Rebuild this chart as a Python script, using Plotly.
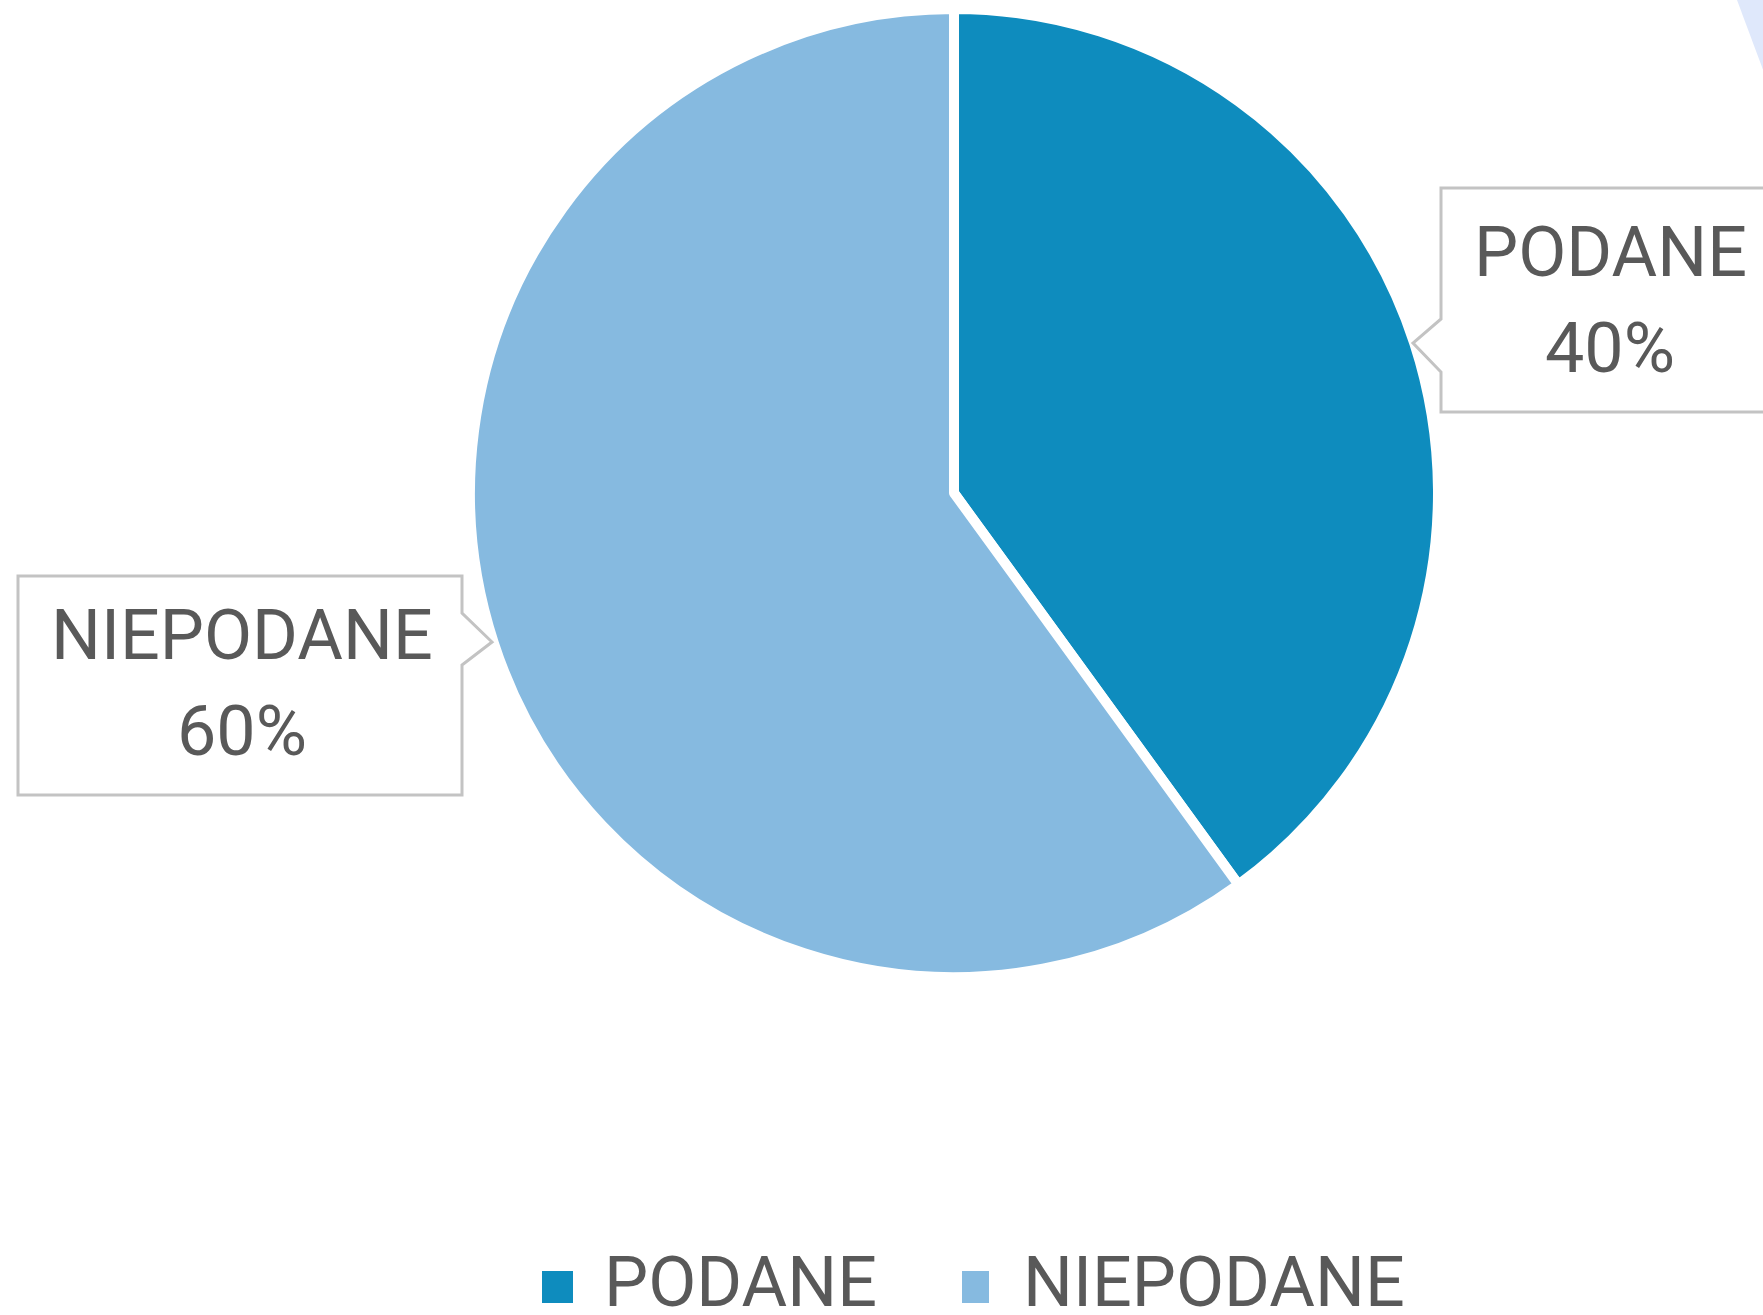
import plotly.graph_objects as go

# ---- data ----
categories = ["PODANE", "NIEPODANE"]
values = [40, 60]
colors = ["#0E8CBE", "#86BAE0"]

# ---- layout constants (pixels) ----
W, H = 1763, 1315
CX, CY, R = 954, 493, 479
SEP = 10
FONT = "Roboto, Liberation Sans, Arial, sans-serif"
TXT = "#595959"
FS = 70


def px(x):
    return x / W


def py(y):
    return 1 - y / H


fig = go.Figure()
Rd = R + SEP / 2
fig.add_trace(go.Pie(
    labels=categories,
    values=values,
    sort=False,
    direction="clockwise",
    rotation=0,
    marker=dict(colors=colors, line=dict(color="white", width=SEP)),
    textinfo="none",
    hoverinfo="label+percent",
    showlegend=False,
    domain=dict(x=[px(CX - Rd), px(CX + Rd)], y=[py(CY + Rd), py(CY - Rd)]),
))

total = sum(values)
pct = [f"{round(v / total * 100)}%" for v in values]

shapes = []
annotations = []


def path(points):
    s = "M " + " L ".join(f"{px(x):.6f},{py(y):.6f}" for x, y in points) + " Z"
    return s


# callout boxes
boxes = {
    "PODANE": dict(l=1441, t=188, r=1775, b=412, side="left", p0=319, tx=1413, ty=343, p1=372,
                   cx=1610, y1=252, y2=348),
    "NIEPODANE": dict(l=18, t=576, r=462, b=795, side="right", p0=613, tx=492, ty=642, p1=665,
                      cx=242, y1=635, y2=731),
}

for cat, p in zip(categories, pct):
    b = boxes[cat]
    if b["side"] == "left":
        pts = [(b["l"], b["t"]), (b["r"], b["t"]), (b["r"], b["b"]), (b["l"], b["b"]),
               (b["l"], b["p1"]), (b["tx"], b["ty"]), (b["l"], b["p0"])]
    else:
        pts = [(b["l"], b["t"]), (b["r"], b["t"]), (b["r"], b["p0"]), (b["tx"], b["ty"]),
               (b["r"], b["p1"]), (b["r"], b["b"]), (b["l"], b["b"])]
    shapes.append(dict(type="path", xref="paper", yref="paper", path=path(pts),
                       line=dict(color="#C3C3C3", width=3), fillcolor="white", layer="above"))
    annotations.append(dict(text=cat, x=px(b["cx"]), y=py(b["y1"]), xref="paper", yref="paper",
                            xanchor="center", yanchor="middle", showarrow=False,
                            font=dict(family=FONT, size=FS, color=TXT)))
    annotations.append(dict(text=p, x=px(b["cx"]), y=py(b["y2"]), xref="paper", yref="paper",
                            xanchor="center", yanchor="middle", showarrow=False,
                            font=dict(family=FONT, size=FS, color=TXT)))

# manual legend (large squares)
leg_sq = [(542, 573), (962, 989)]
leg_tx = [602, 1021]
LEG_Y0, LEG_Y1, LEG_TY = 1271, 1303, 1282
for cat, col, (x0, x1), tx in zip(categories, colors, leg_sq, leg_tx):
    shapes.append(dict(type="rect", xref="paper", yref="paper",
                       x0=px(x0), x1=px(x1), y0=py(LEG_Y1), y1=py(LEG_Y0),
                       fillcolor=col, line=dict(width=0)))
    annotations.append(dict(text=cat, x=px(tx), y=py(LEG_TY), xref="paper", yref="paper",
                            xanchor="left", yanchor="middle", showarrow=False,
                            font=dict(family=FONT, size=FS, color=TXT)))

# faint background wedge at top-right corner
shapes.append(dict(type="path", xref="paper", yref="paper",
                   path=path([(1737, 0), (1765, 0), (1765, 75)]),
                   fillcolor="#DFE8FB", line=dict(width=0), layer="below"))

fig.update_layout(
    width=W, height=H,
    margin=dict(l=0, r=0, t=0, b=0),
    paper_bgcolor="white", plot_bgcolor="white",
    shapes=shapes, annotations=annotations,
    showlegend=False,
)

fig.write_html("out.html", config={"displayModeBar": False},
               post_script="document.body.style.margin='0';document.body.style.overflow='hidden';")
